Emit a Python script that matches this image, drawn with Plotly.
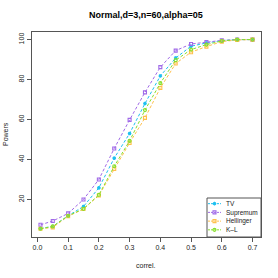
import plotly.graph_objects as go

# ---- data ----
correl = [0.01, 0.05, 0.10, 0.15, 0.20, 0.25, 0.30, 0.35, 0.40, 0.45, 0.50, 0.55, 0.60, 0.65, 0.70]
tv = [5.5, 6.5, 11.8, 16.5, 25.8, 40.7, 53.0, 68.0, 81.8, 90.8, 96.7, 98.3, 99.5, 100, 100]
supremum = [7.3, 9.2, 13.0, 20.0, 30.0, 45.5, 59.8, 73.6, 86.2, 94.5, 97.8, 98.8, 99.6, 100, 100]
hellinger = [5.3, 6.0, 11.6, 15.2, 22.0, 35.3, 48.3, 60.8, 75.8, 88.0, 93.7, 96.5, 99.0, 99.8, 100]
kl = [5.3, 6.5, 11.8, 15.3, 22.3, 36.6, 49.3, 64.7, 78.2, 89.7, 95.0, 97.5, 99.3, 100, 100]

series_names = ["TV", "Supremum", "Hellinger", "K\u2013L"]
series_values = [tv, supremum, hellinger, kl]
colors = ["#1ec0f0", "#a06ae8", "#ffc04c", "#86e02a"]
symbols = ["asterisk-open", "square-open", "square-open", "circle-open"]
x_ticks = [0.0, 0.1, 0.2, 0.3, 0.4, 0.5, 0.6, 0.7]
y_ticks = [20, 40, 60, 80, 100]

FONT = "Liberation Sans, Arial, sans-serif"

fig = go.Figure()
for name, vals, c, s in zip(series_names, series_values, colors, symbols):
    fig.add_trace(go.Scatter(
        x=correl, y=vals, mode="lines+markers", name=name,
        line=dict(color=c, width=1, dash="3px,2px"),
        marker=dict(symbol=s, size=3, color=c, line=dict(color=c, width=1.1)),
        showlegend=False,
    ))

# custom R-style legend keys on an overlay axis
n = len(series_names)
for i, (name, c, s) in enumerate(zip(series_names, colors, symbols)):
    row = n - 1 - i + 0.5
    fig.add_trace(go.Scatter(
        x=[0.0, 0.5, 1.0], y=[row, row, row], xaxis="x2", yaxis="y2",
        mode="lines", line=dict(color=c, width=1, dash="2px,1px"),
        showlegend=False, hoverinfo="skip"))
    fig.add_trace(go.Scatter(
        x=[0.5], y=[row], xaxis="x2", yaxis="y2", mode="markers",
        marker=dict(symbol=s, size=3, color=c, line=dict(color=c, width=1.1)),
        showlegend=False, hoverinfo="skip"))

pl, pr, pt, pb = 32, 261, 32, 237
W = pr - pl
H = pb - pt

def px(xp):
    return (xp - pl) / W

def py(yp):
    return (pb - yp) / H

annotations = [
    dict(text="<b>Normal,d=3,n=60,alpha=05</b>", x=px(146), xref="paper", y=py(15.5), yref="paper",
         xanchor="center", yanchor="middle",
         showarrow=False, font=dict(size=9, family=FONT, color="#000")),
    dict(text="correl.", x=px(146), xref="paper", y=py(265), yref="paper",
         xanchor="center", yanchor="middle",
         showarrow=False, font=dict(size=7, family=FONT, color="#222")),
    dict(text="Powers", x=px(5), xref="paper", y=py(134), yref="paper", textangle=-90,
         xanchor="center", yanchor="middle",
         showarrow=False, font=dict(size=7, family=FONT, color="#222")),
]
row_px = [203.7, 212.6, 221.3, 229.8]
for name, ry in zip(series_names, row_px):
    annotations.append(dict(text=name, x=px(224), xref="paper", xanchor="left",
                            y=py(ry), yref="paper", yanchor="middle", showarrow=False,
                            font=dict(size=6.5, family=FONT, color="#222")))

fig.update_layout(
    width=278, height=278,
    margin=dict(l=pl, r=278 - pr, t=pt, b=278 - pb),
    paper_bgcolor="white", plot_bgcolor="white",
    font=dict(family=FONT, size=7, color="#222"),
    xaxis=dict(range=[-0.0176, 0.7276], tickvals=x_ticks, ticktext=["%.1f" % v for v in x_ticks],
               showgrid=False, zeroline=False, showline=True, mirror=True,
               linecolor="#555", linewidth=1, ticks="outside", ticklen=4, tickcolor="#555",
               tickfont=dict(size=7, family=FONT, color="#222")),
    yaxis=dict(range=[1.2, 103.8], tickvals=y_ticks, tickangle=-90,
               showgrid=False, zeroline=False, showline=True, mirror=True,
               linecolor="#555", linewidth=1, ticks="outside", ticklen=4, tickcolor="#555",
               tickfont=dict(size=7, family=FONT, color="#222")),
    xaxis2=dict(domain=[px(208), px(221)], range=[0, 1], visible=False, anchor="y2", fixedrange=True),
    yaxis2=dict(domain=[py(234.2), py(199.3)], range=[0, 4], visible=False, anchor="x2", fixedrange=True),
    shapes=[dict(type="rect", xref="paper", yref="paper", x0=px(207), x1=1, y0=0, y1=py(198),
                 line=dict(color="#555", width=1), fillcolor="rgba(0,0,0,0)")],
    annotations=annotations,
)

fig.write_html("out.html", config={"displayModeBar": False},
               post_script="document.body.style.margin='0';document.body.style.padding='0';")
